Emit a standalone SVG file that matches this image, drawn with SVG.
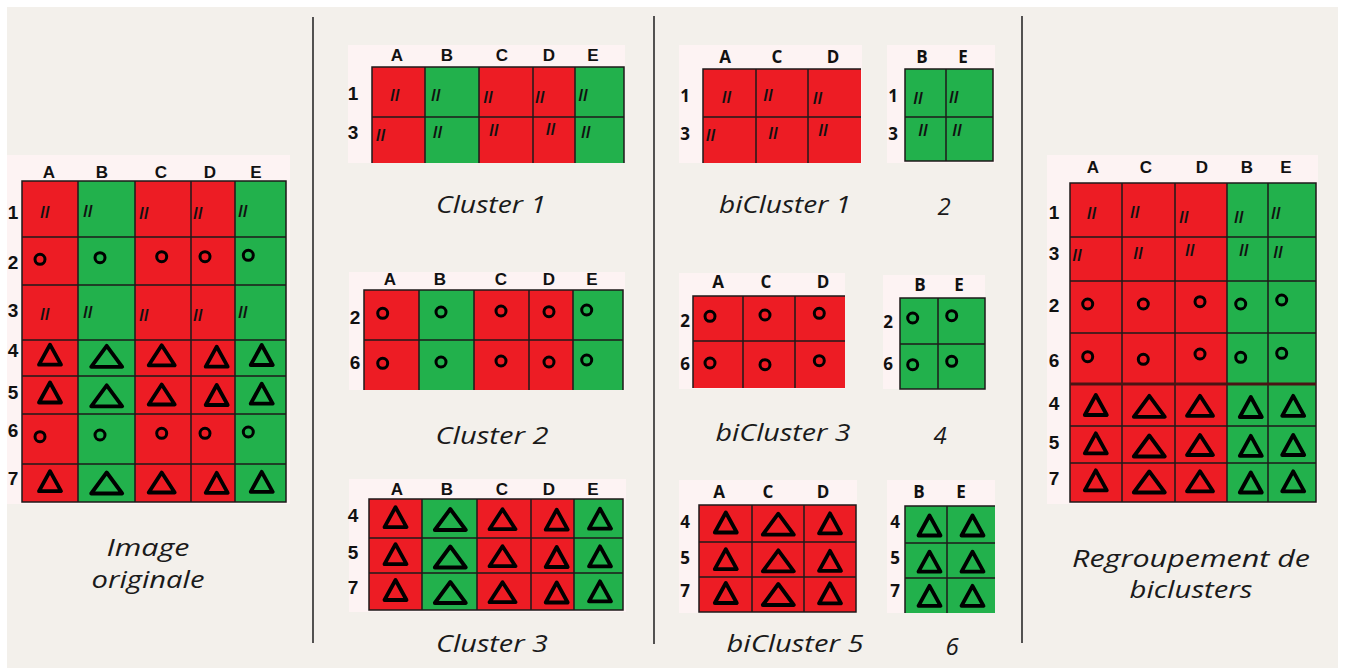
<svg xmlns="http://www.w3.org/2000/svg" xmlns:xlink="http://www.w3.org/1999/xlink" width="1346" height="668" viewBox="0 0 1346 668">
<style>
.bg{fill:#f3f0eb}
.panel{fill:#fdf3f3}
.r{fill:#ed1c24}
.g{fill:#22b14c}
.gl{fill:none;stroke:#1e1a1a;stroke-width:1.5}
.thick{stroke:#4a1414;stroke-width:3}
.hd{font-family:"Liberation Sans Narrow","Liberation Sans",Arial,sans-serif;font-weight:bold;font-size:17px;fill:#111;text-anchor:middle}
.rl{font-family:"Liberation Sans Narrow","Liberation Sans",Arial,sans-serif;font-weight:bold;font-size:19px;fill:#111;text-anchor:middle}
.hc{font-family:"Open Sans","Liberation Sans",sans-serif;font-weight:bold;font-size:17px;fill:#111;text-anchor:middle}
.sl{font-family:"Liberation Sans",Arial,sans-serif;font-weight:bold;font-size:17px;fill:#111;text-anchor:middle}
.ci{fill:none;stroke:#000;stroke-width:3}
.cap{font-family:"Open Sans","Liberation Sans",sans-serif;font-style:italic;font-size:24px;fill:#1a1a1a;text-anchor:middle}
.sep{stroke:#2a2a2a;stroke-width:1.6}
</style>
<defs>
<path id="t1" d="M0,-10 L11,10 L-11,10 Z" fill="none" stroke="#000" stroke-width="3.8" stroke-linejoin="round"/>
<path id="t2" d="M0,-10 L13,10 L-13,10 Z" fill="none" stroke="#000" stroke-width="3.8" stroke-linejoin="round"/>
<path id="t3" d="M0,-10.5 L15.5,10.5 L-15.5,10.5 Z" fill="none" stroke="#000" stroke-width="3.8" stroke-linejoin="round"/>
<clipPath id="clipC2"><rect x="349" y="272" width="276" height="118"/></clipPath>
</defs>

<rect x="0" y="0" width="1346" height="668" fill="#ffffff"/>
<rect class="bg" x="7" y="7" width="1331" height="661"/>

<g id="separators">
<line class="sep" x1="313" y1="17" x2="313" y2="643"/>
<line class="sep" x1="654" y1="16" x2="654" y2="644"/>
<line class="sep" x1="1022" y1="16" x2="1022" y2="643"/>
</g>

<!-- Original image -->
<g id="original">
<rect class="panel" x="7" y="155" width="283" height="349"/>
<rect class="r" x="22" y="181" width="56" height="321"/>
<rect class="g" x="78" y="181" width="57" height="321"/>
<rect class="r" x="135" y="181" width="56" height="321"/>
<rect class="r" x="191" y="181" width="44" height="321"/>
<rect class="g" x="235" y="181" width="51" height="321"/>
<rect class="gl" x="22" y="181" width="264" height="321"/>
<path class="gl" d="M78,181V502M135,181V502M191,181V502M235,181V502M22,237H286M22,285H286M22,340H286M22,376H286M22,414H286M22,464H286"/>
<text class="hd" x="49" y="177.5">A</text><text class="hd" x="102" y="177.5">B</text><text class="hd" x="161" y="177.5">C</text><text class="hd" x="210" y="177.5">D</text><text class="hd" x="256" y="177.5">E</text>
<text class="rl" x="13" y="218.5">1</text><text class="rl" x="13" y="268.5">2</text><text class="rl" x="13" y="316.5">3</text><text class="rl" x="13" y="356.5">4</text><text class="rl" x="13" y="398.5">5</text><text class="rl" x="13" y="436.5">6</text><text class="rl" x="13" y="484.5">7</text>
<text class="sl" x="45" y="217.5">//</text><text class="sl" x="88" y="217">//</text><text class="sl" x="144" y="219">//</text><text class="sl" x="198" y="219">//</text><text class="sl" x="243" y="217">//</text>
<text class="sl" x="45" y="319.5">//</text><text class="sl" x="88" y="318">//</text><text class="sl" x="144" y="321">//</text><text class="sl" x="198" y="321">//</text><text class="sl" x="243" y="317.5">//</text>
<circle class="ci" cx="40" cy="259.3" r="5"/><circle class="ci" cx="100" cy="257.7" r="5"/><circle class="ci" cx="161.7" cy="256.7" r="5"/><circle class="ci" cx="205" cy="256.7" r="5"/><circle class="ci" cx="248.3" cy="255.3" r="5"/>
<circle class="ci" cx="40" cy="436.7" r="5"/><circle class="ci" cx="100" cy="435" r="5"/><circle class="ci" cx="161.7" cy="433.3" r="5"/><circle class="ci" cx="205" cy="433.3" r="5"/><circle class="ci" cx="248.3" cy="432" r="5"/>
<use xlink:href="#t1" x="50" y="354.7"/><use xlink:href="#t3" x="106.7" y="356.3"/><use xlink:href="#t2" x="161.7" y="355.3"/><use xlink:href="#t1" x="216.7" y="356.7"/><use xlink:href="#t1" x="261.7" y="355"/>
<use xlink:href="#t1" x="50" y="392.5"/><use xlink:href="#t3" x="106.7" y="395.8"/><use xlink:href="#t2" x="161.7" y="394.5"/><use xlink:href="#t1" x="216.7" y="395"/><use xlink:href="#t1" x="261.7" y="393.7"/>
<use xlink:href="#t1" x="50" y="481.2"/><use xlink:href="#t3" x="106.7" y="483"/><use xlink:href="#t2" x="161.7" y="482.5"/><use xlink:href="#t1" x="216.7" y="482.8"/><use xlink:href="#t1" x="261.7" y="481.8"/>
<text class="cap" x="148" y="556" textLength="83" lengthAdjust="spacingAndGlyphs">Image</text>
<text class="cap" x="148" y="588" textLength="113" lengthAdjust="spacingAndGlyphs">originale</text>
</g>

<!-- Cluster 1 -->
<g id="cluster1">
<rect class="panel" x="348" y="45" width="277" height="118"/>
<rect class="r" x="372" y="67" width="53" height="96"/>
<rect class="g" x="425" y="67" width="54" height="96"/>
<rect class="r" x="479" y="67" width="54" height="96"/>
<rect class="r" x="533" y="67" width="42" height="96"/>
<rect class="g" x="575" y="67" width="49" height="96"/>
<path class="gl" d="M372,163V67H624V163M425,67V163M479,67V163M533,67V163M575,67V163M372,117H624"/>
<text class="hd" x="397" y="61">A</text><text class="hd" x="447" y="61">B</text><text class="hd" x="502" y="61">C</text><text class="hd" x="549" y="61">D</text><text class="hd" x="593" y="61">E</text>
<text class="rl" x="353" y="100">1</text><text class="rl" x="353" y="138.5">3</text>
<text class="sl" x="395" y="101">//</text><text class="sl" x="436" y="101">//</text><text class="sl" x="488.3" y="102.7">//</text><text class="sl" x="540" y="102.7">//</text><text class="sl" x="583.3" y="101">//</text>
<text class="sl" x="380.7" y="141">//</text><text class="sl" x="437.7" y="137.7">//</text><text class="sl" x="494" y="136">//</text><text class="sl" x="550.7" y="135">//</text><text class="sl" x="586" y="137.7">//</text>
<text class="cap" x="491" y="213" textLength="110" lengthAdjust="spacingAndGlyphs">Cluster 1</text>
</g>

<!-- Cluster 2 -->
<g id="cluster2">
<rect class="panel" x="349" y="272" width="276" height="118"/>
<rect class="r" x="364" y="290" width="55" height="100"/>
<rect class="g" x="419" y="290" width="55" height="100"/>
<rect class="r" x="474" y="290" width="55" height="100"/>
<rect class="r" x="529" y="290" width="44" height="100"/>
<rect class="g" x="573" y="290" width="50" height="100"/>
<path class="gl" d="M364,390V290H623V390M419,290V390M474,290V390M529,290V390M573,290V390M364,340H623"/>
<g clip-path="url(#clipC2)">
<text class="hd" x="390" y="285">A</text><text class="hd" x="440" y="285">B</text><text class="hd" x="501" y="285">C</text><text class="hd" x="549" y="285">D</text><text class="hd" x="592" y="285">E</text>
</g>
<text class="rl" x="355" y="323.5">2</text><text class="rl" x="355" y="368.5">6</text>
<circle class="ci" cx="382.7" cy="313.3" r="5"/><circle class="ci" cx="441" cy="312" r="5"/><circle class="ci" cx="501" cy="311" r="5"/><circle class="ci" cx="549" cy="311.7" r="5"/><circle class="ci" cx="586.7" cy="310" r="5"/>
<circle class="ci" cx="382.7" cy="363.3" r="5"/><circle class="ci" cx="441" cy="362" r="5"/><circle class="ci" cx="501" cy="361" r="5"/><circle class="ci" cx="549" cy="362" r="5"/><circle class="ci" cx="586.7" cy="360" r="5"/>
<text class="cap" x="492" y="444" textLength="113" lengthAdjust="spacingAndGlyphs">Cluster 2</text>
</g>

<!-- Cluster 3 -->
<g id="cluster3">
<rect class="panel" x="349" y="479" width="277" height="133"/>
<rect class="r" x="369" y="499" width="53" height="111"/>
<rect class="g" x="422" y="499" width="55" height="111"/>
<rect class="r" x="477" y="499" width="54" height="111"/>
<rect class="r" x="531" y="499" width="43" height="111"/>
<rect class="g" x="574" y="499" width="49" height="111"/>
<rect class="gl" x="369" y="499" width="254" height="111"/>
<path class="gl" d="M422,499V610M477,499V610M531,499V610M574,499V610M369,538H623M369,573H623"/>
<text class="hd" x="397" y="495">A</text><text class="hd" x="447" y="495">B</text><text class="hd" x="502" y="495">C</text><text class="hd" x="549" y="495">D</text><text class="hd" x="593" y="495">E</text>
<text class="rl" x="353" y="522">4</text><text class="rl" x="353" y="558.5">5</text><text class="rl" x="353" y="593.5">7</text>
<use xlink:href="#t1" x="395.5" y="517.2"/><use xlink:href="#t3" x="450.3" y="519.5"/><use xlink:href="#t2" x="502.5" y="519.2"/><use xlink:href="#t1" x="556.7" y="519.7"/><use xlink:href="#t1" x="600" y="518.7"/>
<use xlink:href="#t1" x="395.5" y="554.2"/><use xlink:href="#t3" x="450.3" y="557"/><use xlink:href="#t2" x="502.5" y="556.2"/><use xlink:href="#t1" x="556.7" y="557"/><use xlink:href="#t1" x="600" y="556.3"/>
<use xlink:href="#t1" x="395.5" y="590"/><use xlink:href="#t3" x="450.3" y="592.5"/><use xlink:href="#t2" x="502.5" y="592.2"/><use xlink:href="#t1" x="556.7" y="592.5"/><use xlink:href="#t1" x="600" y="591.3"/>
<text class="cap" x="492" y="652" textLength="112" lengthAdjust="spacingAndGlyphs">Cluster 3</text>
</g>

<!-- biCluster 1 -->
<g id="bicluster1">
<rect class="panel" x="679" y="45" width="183" height="118"/>
<rect class="r" x="703" y="69" width="158" height="94"/>
<path class="gl" d="M703,163V69H861M756,69V163M808,69V163M703,117H861"/>
<text class="hc" x="725" y="63">A</text><text class="hc" x="777" y="63">C</text><text class="hc" x="833" y="63">D</text>
<text class="hc" x="685" y="101.5">1</text><text class="hc" x="685" y="139.5">3</text>
<text class="sl" x="726.7" y="102.7">//</text><text class="sl" x="768.3" y="101">//</text><text class="sl" x="817.7" y="104.3">//</text>
<text class="sl" x="710.7" y="141">//</text><text class="sl" x="773.3" y="139">//</text><text class="sl" x="823.3" y="136">//</text>
<text class="cap" x="785" y="213" textLength="132" lengthAdjust="spacingAndGlyphs">biCluster 1</text>
</g>
<g id="bicluster2">
<rect class="panel" x="887" y="45" width="108" height="118"/>
<rect class="g" x="905" y="69" width="88" height="92"/>
<rect class="gl" x="905" y="69" width="88" height="92"/>
<path class="gl" d="M946,69V161M905,117H993"/>
<text class="hc" x="922" y="63">B</text><text class="hc" x="963" y="63">E</text>
<text class="hc" x="893" y="101.5">1</text><text class="hc" x="893" y="139.5">3</text>
<text class="sl" x="918.3" y="104.3">//</text><text class="sl" x="954" y="102.7">//</text>
<text class="sl" x="923.3" y="136">//</text><text class="sl" x="957.3" y="136">//</text>
<text class="cap" x="944" y="215">2</text>
</g>

<!-- biCluster 3 -->
<g id="bicluster3">
<rect class="panel" x="679" y="273" width="166" height="116"/>
<rect class="r" x="693" y="296" width="152" height="92"/>
<path class="gl" d="M693,388V296H845M743,296V388M795,296V388M693,341H845"/>
<text class="hc" x="718" y="287.5">A</text><text class="hc" x="766" y="287.5">C</text><text class="hc" x="823" y="287.5">D</text>
<text class="hc" x="685" y="326.5">2</text><text class="hc" x="685" y="369.5">6</text>
<circle class="ci" cx="710" cy="316.3" r="5"/><circle class="ci" cx="765" cy="315" r="5"/><circle class="ci" cx="819.3" cy="313.3" r="5"/>
<circle class="ci" cx="710" cy="363" r="5"/><circle class="ci" cx="765" cy="364.7" r="5"/><circle class="ci" cx="819.3" cy="360.7" r="5"/>
<text class="cap" x="783" y="441" textLength="135" lengthAdjust="spacingAndGlyphs">biCluster 3</text>
</g>
<g id="bicluster4">
<rect class="panel" x="883" y="275" width="102" height="114"/>
<rect class="g" x="900" y="298" width="85" height="91"/>
<rect class="gl" x="900" y="298" width="85" height="91"/>
<path class="gl" d="M938,298V389M900,344H985"/>
<text class="hc" x="920" y="290.5">B</text><text class="hc" x="959" y="290.5">E</text>
<text class="hc" x="888" y="327.5">2</text><text class="hc" x="888" y="369.5">6</text>
<circle class="ci" cx="912.7" cy="318" r="5"/><circle class="ci" cx="951.7" cy="315.7" r="5"/>
<circle class="ci" cx="912.7" cy="364.7" r="5"/><circle class="ci" cx="951.7" cy="361.3" r="5"/>
<text class="cap" x="940" y="444">4</text>
</g>

<!-- biCluster 5 -->
<g id="bicluster5">
<rect class="panel" x="679" y="480" width="178" height="133"/>
<rect class="r" x="699" y="505" width="157" height="107"/>
<rect class="gl" x="699" y="505" width="157" height="107"/>
<path class="gl" d="M752,505V612M804,505V612M699,542H856M699,577H856"/>
<text class="hc" x="719" y="497.5">A</text><text class="hc" x="768" y="497.5">C</text><text class="hc" x="823" y="497.5">D</text>
<text class="hc" x="685" y="527.5">4</text><text class="hc" x="685" y="563.5">5</text><text class="hc" x="685" y="596.5">7</text>
<use xlink:href="#t1" x="725.8" y="522.5"/><use xlink:href="#t3" x="778.3" y="524.2"/><use xlink:href="#t1" x="830" y="523.3"/>
<use xlink:href="#t1" x="725.8" y="559.2"/><use xlink:href="#t3" x="778.3" y="560.8"/><use xlink:href="#t1" x="830" y="560.8"/>
<use xlink:href="#t1" x="725.8" y="593"/><use xlink:href="#t3" x="778.3" y="594.5"/><use xlink:href="#t1" x="830" y="593.3"/>
<text class="cap" x="795" y="652" textLength="137" lengthAdjust="spacingAndGlyphs">biCluster 5</text>
</g>
<g id="bicluster6">
<rect class="panel" x="887" y="480" width="108" height="133"/>
<rect class="g" x="905" y="506" width="90" height="107"/>
<path class="gl" d="M905,613V506H995M947,506V613M905,543H995M905,578H995"/>
<text class="hc" x="919" y="497.5">B</text><text class="hc" x="961" y="497.5">E</text>
<text class="hc" x="895" y="527.5">4</text><text class="hc" x="895" y="563.5">5</text><text class="hc" x="895" y="596.5">7</text>
<use xlink:href="#t1" x="929.5" y="525.5"/><use xlink:href="#t1" x="972.5" y="525.5"/>
<use xlink:href="#t1" x="929.5" y="561.7"/><use xlink:href="#t1" x="972.5" y="561.7"/>
<use xlink:href="#t1" x="929.5" y="595.8"/><use xlink:href="#t1" x="972.5" y="595.8"/>
<text class="cap" x="952" y="655">6</text>
</g>

<!-- Regroupement -->
<g id="regroupement">
<rect class="panel" x="1047" y="155" width="271" height="349"/>
<rect class="r" x="1070" y="183" width="157" height="319"/>
<rect class="g" x="1227" y="183" width="89" height="319"/>
<rect class="gl" x="1070" y="183" width="246" height="319"/>
<path class="gl" d="M1122,183V502M1175,183V502M1227,183V502M1268,183V502M1070,237H1316M1070,281H1316M1070,333H1316M1070,426H1316M1070,463H1316"/>
<path class="gl thick" d="M1070,384H1316"/>
<text class="hd" x="1093" y="173">A</text><text class="hd" x="1146" y="173">C</text><text class="hd" x="1202" y="173">D</text><text class="hd" x="1247" y="173">B</text><text class="hd" x="1286" y="173">E</text>
<text class="rl" x="1054" y="218.5">1</text><text class="rl" x="1054" y="259.5">3</text><text class="rl" x="1054" y="311.5">2</text><text class="rl" x="1054" y="366.5">6</text><text class="rl" x="1054" y="409.5">4</text><text class="rl" x="1054" y="448.5">5</text><text class="rl" x="1054" y="484.5">7</text>
<text class="sl" x="1091.7" y="219.3">//</text><text class="sl" x="1135" y="217.7">//</text><text class="sl" x="1184" y="222.7">//</text><text class="sl" x="1239" y="222.7">//</text><text class="sl" x="1276" y="219.3">//</text>
<text class="sl" x="1077.3" y="261">//</text><text class="sl" x="1138.3" y="259.3">//</text><text class="sl" x="1190" y="256">//</text><text class="sl" x="1244" y="256">//</text><text class="sl" x="1278.3" y="257.7">//</text>
<circle class="ci" cx="1087.7" cy="304" r="5"/><circle class="ci" cx="1143.3" cy="304" r="5"/><circle class="ci" cx="1200" cy="301.7" r="5"/><circle class="ci" cx="1240.7" cy="304" r="5"/><circle class="ci" cx="1281.7" cy="300" r="5"/>
<circle class="ci" cx="1087.7" cy="356.7" r="5"/><circle class="ci" cx="1143.3" cy="359.3" r="5"/><circle class="ci" cx="1200" cy="354" r="5"/><circle class="ci" cx="1240.7" cy="357.3" r="5"/><circle class="ci" cx="1281.7" cy="353.3" r="5"/>
<use xlink:href="#t1" x="1095.8" y="405"/><use xlink:href="#t3" x="1149.3" y="406.3"/><use xlink:href="#t2" x="1200" y="405.8"/><use xlink:href="#t1" x="1250.8" y="407"/><use xlink:href="#t1" x="1293.2" y="405.8"/>
<use xlink:href="#t1" x="1095.8" y="443.3"/><use xlink:href="#t3" x="1149.3" y="446"/><use xlink:href="#t2" x="1200" y="445"/><use xlink:href="#t1" x="1250.8" y="445.8"/><use xlink:href="#t1" x="1293.2" y="445"/>
<use xlink:href="#t1" x="1095.8" y="480.3"/><use xlink:href="#t3" x="1149.3" y="482"/><use xlink:href="#t2" x="1200" y="481.3"/><use xlink:href="#t1" x="1250.8" y="482.5"/><use xlink:href="#t1" x="1293.2" y="481.3"/>
<text class="cap" x="1191" y="567" textLength="238" lengthAdjust="spacingAndGlyphs">Regroupement de</text>
<text class="cap" x="1191" y="598" textLength="123" lengthAdjust="spacingAndGlyphs">biclusters</text>
</g>
</svg>
